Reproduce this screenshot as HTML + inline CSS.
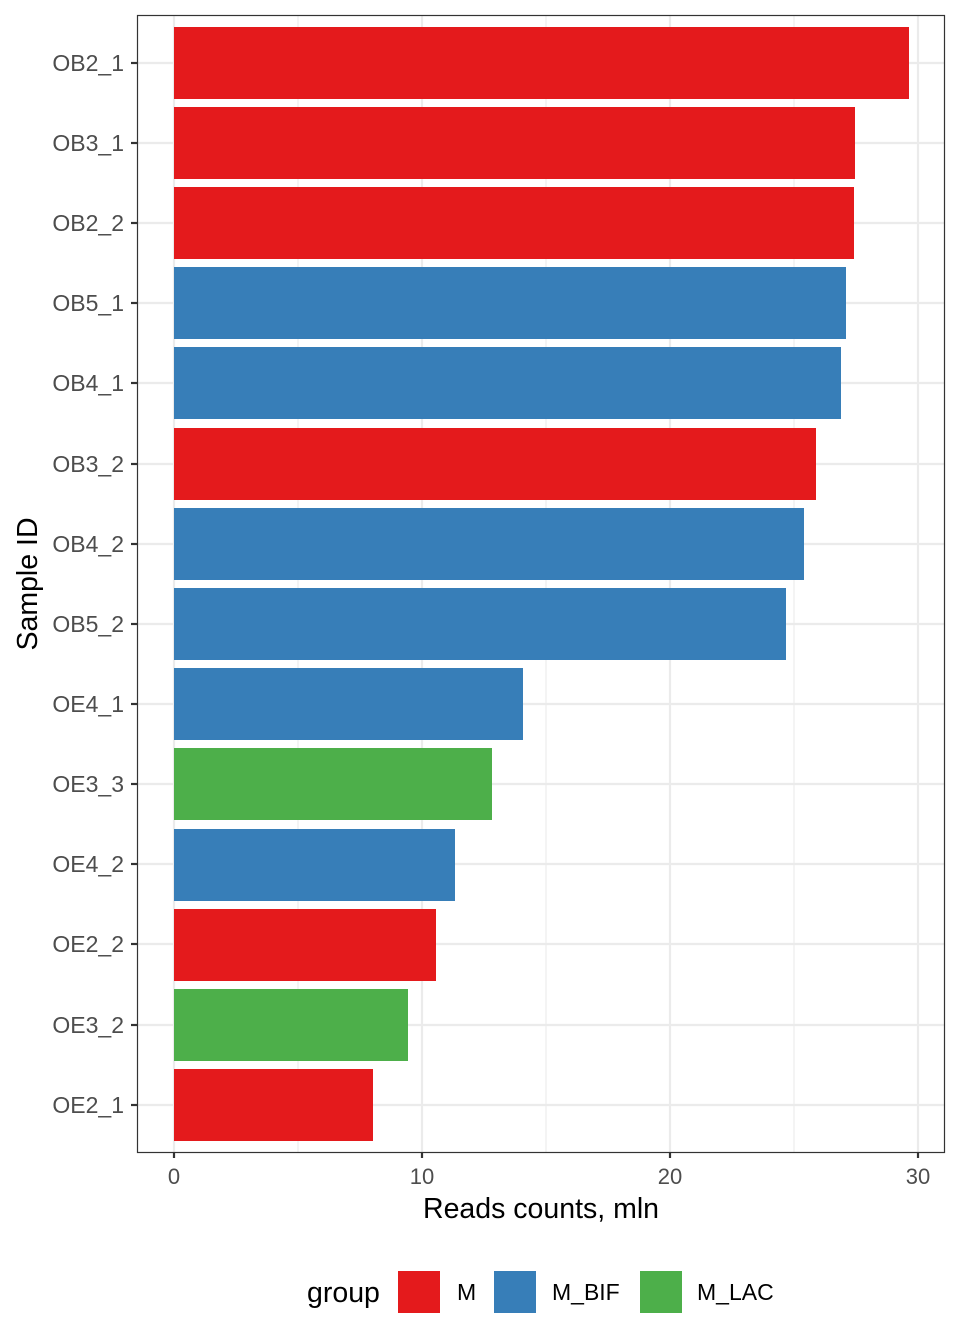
<!DOCTYPE html>
<html><head><style>body{margin:0;background:#fff}svg{display:block}text{font-family:"Liberation Sans",sans-serif}</style></head><body>
<svg width="960" height="1344" xmlns="http://www.w3.org/2000/svg">
<rect width="960" height="1344" fill="#fff"/>
<g stroke="#ebebeb" stroke-width="1.1">
<line x1="298" y1="15" x2="298" y2="1152"/><line x1="546" y1="15" x2="546" y2="1152"/><line x1="794" y1="15" x2="794" y2="1152"/>
</g>
<g stroke="#ebebeb" stroke-width="2.2">
<line x1="174" y1="15" x2="174" y2="1152"/><line x1="422" y1="15" x2="422" y2="1152"/><line x1="670" y1="15" x2="670" y2="1152"/><line x1="918" y1="15" x2="918" y2="1152"/>
<line x1="137" y1="63" x2="945" y2="63"/><line x1="137" y1="143" x2="945" y2="143"/><line x1="137" y1="223" x2="945" y2="223"/><line x1="137" y1="303" x2="945" y2="303"/><line x1="137" y1="383" x2="945" y2="383"/><line x1="137" y1="464" x2="945" y2="464"/><line x1="137" y1="544" x2="945" y2="544"/><line x1="137" y1="624" x2="945" y2="624"/><line x1="137" y1="704" x2="945" y2="704"/><line x1="137" y1="784" x2="945" y2="784"/><line x1="137" y1="864" x2="945" y2="864"/><line x1="137" y1="944" x2="945" y2="944"/><line x1="137" y1="1025" x2="945" y2="1025"/><line x1="137" y1="1105" x2="945" y2="1105"/>
</g>
<g>
<rect x="174" y="27" width="735" height="72" fill="#e41a1c"/>
<rect x="174" y="107" width="681" height="72" fill="#e41a1c"/>
<rect x="174" y="187" width="680" height="72" fill="#e41a1c"/>
<rect x="174" y="267" width="672" height="72" fill="#377eb8"/>
<rect x="174" y="347" width="667" height="72" fill="#377eb8"/>
<rect x="174" y="428" width="642" height="72" fill="#e41a1c"/>
<rect x="174" y="508" width="630" height="72" fill="#377eb8"/>
<rect x="174" y="588" width="612" height="72" fill="#377eb8"/>
<rect x="174" y="668" width="349" height="72" fill="#377eb8"/>
<rect x="174" y="748" width="318" height="72" fill="#4daf4a"/>
<rect x="174" y="829" width="281" height="72" fill="#377eb8"/>
<rect x="174" y="909" width="262" height="72" fill="#e41a1c"/>
<rect x="174" y="989" width="234" height="72" fill="#4daf4a"/>
<rect x="174" y="1069" width="199" height="72" fill="#e41a1c"/>
</g>
<rect x="137.5" y="15.5" width="807" height="1137" fill="none" stroke="#333" stroke-width="1.2"/>
<g stroke="#333" stroke-width="2.2">
<line x1="131" y1="63" x2="137" y2="63"/><line x1="131" y1="143" x2="137" y2="143"/><line x1="131" y1="223" x2="137" y2="223"/><line x1="131" y1="303" x2="137" y2="303"/><line x1="131" y1="383" x2="137" y2="383"/><line x1="131" y1="464" x2="137" y2="464"/><line x1="131" y1="544" x2="137" y2="544"/><line x1="131" y1="624" x2="137" y2="624"/><line x1="131" y1="704" x2="137" y2="704"/><line x1="131" y1="784" x2="137" y2="784"/><line x1="131" y1="864" x2="137" y2="864"/><line x1="131" y1="944" x2="137" y2="944"/><line x1="131" y1="1025" x2="137" y2="1025"/><line x1="131" y1="1105" x2="137" y2="1105"/>
<line x1="174" y1="1152" x2="174" y2="1158"/><line x1="422" y1="1152" x2="422" y2="1158"/><line x1="670" y1="1152" x2="670" y2="1158"/><line x1="918" y1="1152" x2="918" y2="1158"/>
</g>
<g font-size="23" fill="#4d4d4d" text-anchor="end">
<text x="124" y="71">OB2_1</text><text x="124" y="151">OB3_1</text><text x="124" y="231">OB2_2</text><text x="124" y="311">OB5_1</text><text x="124" y="391">OB4_1</text><text x="124" y="472">OB3_2</text><text x="124" y="552">OB4_2</text><text x="124" y="632">OB5_2</text><text x="124" y="712">OE4_1</text><text x="124" y="792">OE3_3</text><text x="124" y="872">OE4_2</text><text x="124" y="952">OE2_2</text><text x="124" y="1033">OE3_2</text><text x="124" y="1113">OE2_1</text>
</g>
<g font-size="22" fill="#4d4d4d" text-anchor="middle">
<text x="174" y="1184">0</text><text x="422" y="1184">10</text><text x="670" y="1184">20</text><text x="918" y="1184">30</text>
</g>
<text x="541" y="1218" font-size="28.5" text-anchor="middle" fill="#000">Reads counts, mln</text>
<text transform="translate(37,584) rotate(-90)" font-size="28.5" text-anchor="middle" fill="#000">Sample ID</text>
<text x="307" y="1302" font-size="28.5" fill="#000">group</text>
<rect x="398" y="1271" width="42" height="42" fill="#e41a1c"/>
<text x="457" y="1300" font-size="23" fill="#000">M</text>
<rect x="494" y="1271" width="42" height="42" fill="#377eb8"/>
<text x="552" y="1300" font-size="23" fill="#000">M_BIF</text>
<rect x="640" y="1271" width="42" height="42" fill="#4daf4a"/>
<text x="697" y="1300" font-size="23" fill="#000">M_LAC</text>
</svg>
</body></html>
